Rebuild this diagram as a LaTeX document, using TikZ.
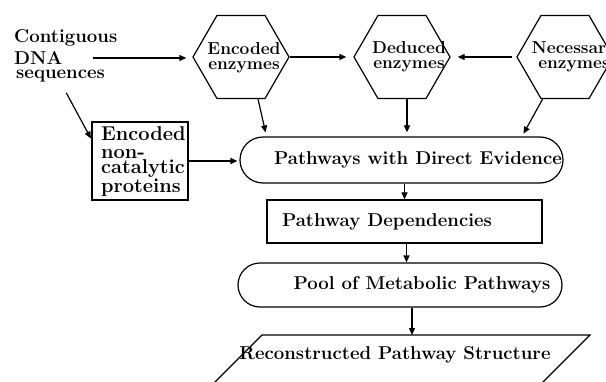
\documentclass[tikz,border=0pt]{standalone}
\usetikzlibrary{shapes.geometric,shapes.misc,arrows.meta,calc}
\begin{document}
\begin{tikzpicture}[x=1pt,y=1pt,
  every node/.style={font=\fontsize{18.6}{15}\selectfont\bfseries},
  ln/.style={line width=1.2pt},
  arr/.style={ln,-{Triangle[length=7pt,width=6pt]}},
  hexa/.style={ln,draw,regular polygon,regular polygon sides=6,minimum size=96pt,inner sep=0pt},
  hextxt/.style={inner sep=0pt,align=center,font=\fontsize{17.3}{15}\selectfont\bfseries},
  stadium/.style={ln,draw,rounded rectangle,inner sep=0pt},
  boxx/.style={ln,draw,rectangle,inner sep=0pt},
  txt/.style={inner sep=0pt,align=center}]
\useasboundingbox (0,0) rectangle (606,381);
% left text
\node[inner sep=0pt,anchor=west] (c1) at (14,343) {Contiguous};
\node[inner sep=0pt,anchor=west] (c2) at (14,323) {DNA};
\node[inner sep=0pt,anchor=west] (c3) at (16,305) {sequences};
% hexagons
\node[hexa] (enc) at (241,324) {};
\node[hexa] (ded) at (402,324) {};
\node[hexa] (nec) at (565,324) {};
\node[hextxt] (enct) at (244,323.5) {Encoded\\enzymes};
\node[hextxt] (dedt) at (409,324) {Deduced\\enzymes};
\node[hextxt] (nect) at (574,324) {Necessary\\enzymes};
% box non-catalytic
\node[boxx,minimum width=96pt,minimum height=78pt] (ncp) at (140,220) {};
\node[inner sep=0pt,align=left,anchor=north west,font=\fontsize{20}{13.5}\selectfont\bfseries] (ncpt) at (101,255) {Encoded\\[5pt]non-\\catalytic\\proteins};
% main column
\node[stadium,minimum width=323pt,minimum height=46pt] (pde) at (401.5,221) {};
\node[txt] (pdet) at (418,221) {Pathways with Direct Evidence};
\node[boxx,minimum width=275pt,minimum height=43pt] (pd) at (404.5,159.5) {};
\node[txt] (pdt) at (387,159) {Pathway Dependencies};
\node[stadium,minimum width=324pt,minimum height=44pt] (pool) at (400,96) {};
\node[txt] (poolt) at (422,96) {Pool of Metabolic Pathways};
\coordinate (rtop) at (412,46);
\draw[ln] (262,46) -- (590,46) -- (530,-14) -- (202,-14) -- cycle;
\node[txt] (rect) at (395,26) {Reconstructed Pathway Structure};
% connectors
\draw[arr,shorten <=30pt,shorten >=6pt] (c2.east) -- (c2.east -| enc.west);
\draw[arr,shorten >=7pt] (enc.east) -- (ded.west);
\draw[arr,shorten <=4pt,shorten >=7pt] (nec.west) -- (ded.east);
\draw[arr,shorten >=4pt] (enc.-68) -- ($(pde.north)+(-135,0)$);
\draw[arr,shorten >=4pt] ($(ded.south)+(5,0)$) -- ($(pde.north)+(5.5,0)$);
\draw[arr,shorten >=3pt] (nec.-118) -- ($(pde.north)+(120.5,0)$);
\draw[arr,shorten <=12pt,shorten >=1pt] (c3.south) -- ($(ncp.north west)+(0,-18)$);
\draw[arr,shorten >=2pt] (ncp.east) -- (ncp.east -| pde.west);
\draw[arr] (pd.north |- pde.south) -- (pd.north);
\draw[arr] ($(pd.south)+(2,0)$) -- ($(pool.north)+(6.5,0)$);
\draw[arr] ($(pool.south)+(12,0)$) -- (rtop);
\end{tikzpicture}
\end{document}
